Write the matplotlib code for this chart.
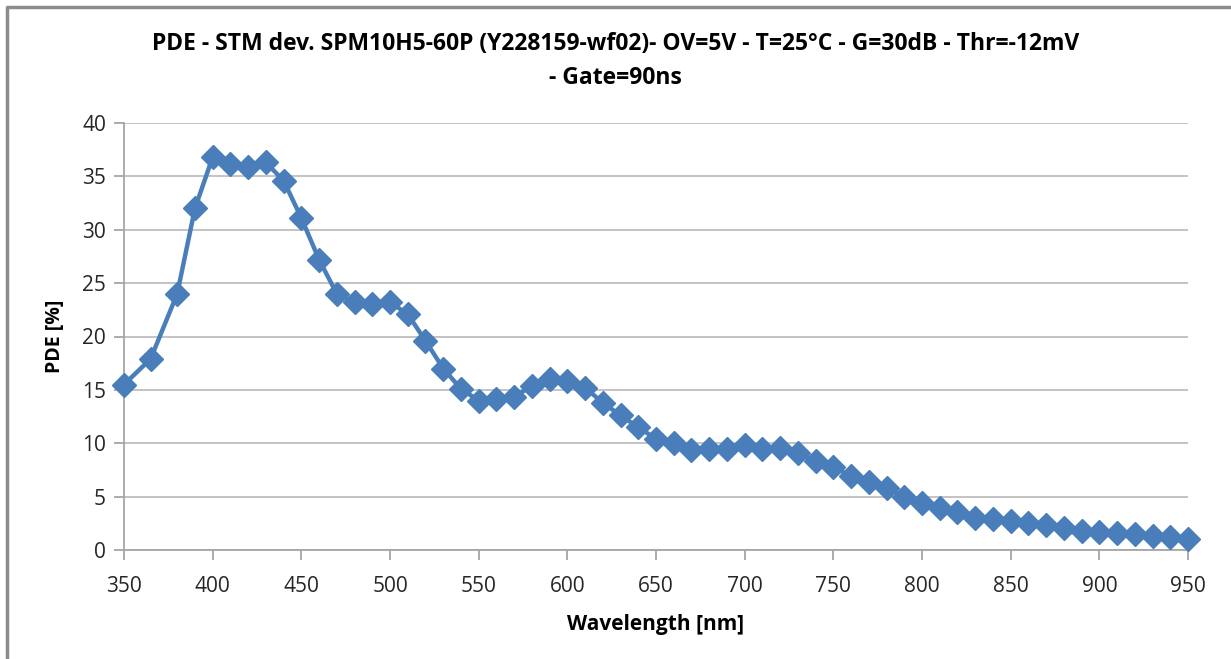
import matplotlib.pyplot as plt
from matplotlib.lines import Line2D

# wavelength [nm] and PDE [%]
wavelength = [350, 365, 380, 390, 400, 410, 420, 430, 440, 450, 460, 470, 480, 490, 500,
              510, 520, 530, 540, 550, 560, 570, 580, 590, 600, 610, 620, 630, 640, 650,
              660, 670, 680, 690, 700, 710, 720, 730, 740, 750, 760, 770, 780, 790, 800,
              810, 820, 830, 840, 850, 860, 870, 880, 890, 900, 910, 920, 930, 940, 950]
pde = [15.5, 17.9, 24.0, 32.0, 36.8, 36.2, 35.9, 36.3, 34.6, 31.1, 27.2, 24.0, 23.2, 23.0, 23.2,
       22.1, 19.6, 17.0, 15.1, 14.0, 14.1, 14.3, 15.4, 16.0, 15.8, 15.2, 13.8, 12.6, 11.5, 10.4,
       10.0, 9.4, 9.5, 9.5, 9.8, 9.5, 9.6, 9.1, 8.3, 7.8, 6.9, 6.4, 5.8, 5.0, 4.4,
       3.9, 3.6, 3.0, 2.9, 2.7, 2.5, 2.3, 2.1, 1.8, 1.7, 1.6, 1.5, 1.3, 1.2, 1.0]

x_ticks = list(range(350, 951, 50))
y_ticks = list(range(0, 41, 5))

title = ("PDE - STM dev. SPM10H5-60P (Y228159-wf02)- OV=5V - T=25\u00b0C - G=30dB - Thr=-12mV\n"
         "- Gate=90ns")

plt.rcParams['font.family'] = ['Open Sans', 'DejaVu Sans']

fig = plt.figure(figsize=(12.31, 6.59), dpi=100)
ax = fig.add_axes([124 / 1231, 1 - 550 / 659, (1188 - 124) / 1231, (550 - 123) / 659])

ax.plot(wavelength, pde, color='#4A7EBB', lw=3.2, marker='D', markersize=12,
        markerfacecolor='#4A7EBB', markeredgecolor='#4A7EBB', zorder=3, clip_on=False)

ax.set_xlim(350, 950)
ax.set_ylim(0, 40)
ax.set_xticks(x_ticks)
ax.set_yticks(y_ticks)
ax.grid(axis='y', color='#BEBEBE', lw=1.3)
ax.set_axisbelow(True)
for s in ['top', 'right']:
    ax.spines[s].set_visible(False)
for s in ['left', 'bottom']:
    ax.spines[s].set_color('#A6A6A6')
    ax.spines[s].set_linewidth(1.3)
ax.tick_params(direction='out', length=7, width=1.3, color='#A6A6A6',
               labelsize=15, labelcolor='#262626')
ax.tick_params(axis='x', pad=12)
ax.tick_params(axis='y', pad=6)

ax.set_xlabel('Wavelength [nm]', fontsize=15, fontweight='bold', labelpad=12)
ax.set_ylabel('PDE [%]', fontsize=14, fontweight='bold', labelpad=12)

fig.text(0.5, 1 - 61 / 659, title, ha='center', va='center', fontsize=16.5,
         fontweight='bold', linespacing=1.55)

# outer frame (top and left edges only, as in the screenshot)
fig.add_artist(Line2D([7 / 1231, 7 / 1231, 1], [0, 1 - 7 / 659, 1 - 7 / 659],
                      transform=fig.transFigure, color='#8C8C8C', lw=2.5))

fig.savefig('out.png', dpi=100)
